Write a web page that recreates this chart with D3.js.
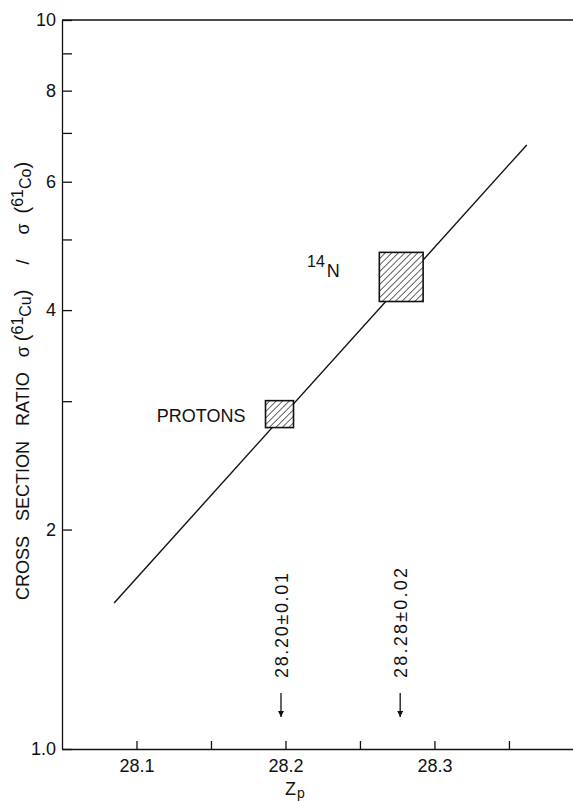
<!DOCTYPE html>
<html>
<head>
<meta charset="utf-8">
<script src="https://cdn.jsdelivr.net/npm/d3@7"></script>
<style>
  body { margin: 0; background: #fff; }
  svg { display: block; font-family: "Liberation Sans", Arial, sans-serif; }
  .axis text { font-size: 18px; fill: #111; font-family: "Liberation Sans", Arial, sans-serif; }
  .axis path, .axis line { stroke: #111; stroke-width: 1.3; }
</style>
</head>
<body>
<div id="chart"></div>
<script>
// data
var yTicks = [1, 2, 3, 4, 5, 6, 7, 8, 9, 10];
var yTickLabels = {1: "1.0", 2: "2", 4: "4", 6: "6", 8: "8", 10: "10"};
var xTicks = [28.1, 28.15, 28.2, 28.25, 28.3, 28.35];
var xTickLabels = {28.1: "28.1", 28.2: "28.2", 28.3: "28.3"};

// fitted line (Z_p, ratio)
var lineZ = [28.085, 28.362];
var lineRatio = [1.586, 6.74];

// measured boxes
var boxNames = ["PROTONS", "14N"];
var boxZ = [[28.1866, 28.2054], [28.263, 28.2924]];
var boxRatio = [[2.76, 3.005], [4.11, 4.80]];

// arrows with Z_p values
var arrowZ = [28.197, 28.277];
var arrowLabels = ["28.20\u00b10.01", "28.28\u00b10.02"];

var svgWidth = 573;
var svgHeight = 801;

var svg = d3.select("#chart")
    .append("svg")
    .attr("width", svgWidth)
    .attr("height", svgHeight);

var x = d3.scaleLinear()
    .domain([28.05, 28.393])
    .range([62, 573]);

var y = d3.scaleLog()
    .domain([1, 10])
    .range([749, 20]);

// hatch pattern
var defs = svg.append("defs");
defs.append("pattern")
    .attr("id", "hatch")
    .attr("patternUnits", "userSpaceOnUse")
    .attr("width", 4.6)
    .attr("height", 4.6)
    .attr("patternTransform", "rotate(45)")
    .append("line")
    .attr("x1", 0).attr("y1", 0)
    .attr("x2", 0).attr("y2", 4.6)
    .attr("stroke", "#111")
    .attr("stroke-width", 1.3);

defs.append("marker")
    .attr("id", "arrow")
    .attr("viewBox", "0 0 10 10")
    .attr("refX", 10).attr("refY", 5)
    .attr("markerWidth", 7).attr("markerHeight", 6)
    .attr("markerUnits", "userSpaceOnUse")
    .attr("orient", "auto")
    .append("path")
    .attr("d", "M0,0 L10,5 L0,10 Z")
    .attr("fill", "#111");

// axes
svg.append("g")
    .attr("class", "axis")
    .attr("transform", "translate(62,0)")
    .call(d3.axisLeft(y)
        .tickValues(yTicks)
        .tickSize(-10)
        .tickSizeOuter(0)
        .tickPadding(6)
        .tickFormat(d => yTickLabels[d] || ""));

svg.append("g")
    .attr("class", "axis")
    .attr("transform", "translate(0,749)")
    .call(d3.axisBottom(x)
        .tickValues(xTicks)
        .tickSize(-8)
        .tickSizeOuter(0)
        .tickPadding(10)
        .tickFormat(d => xTickLabels[d] || ""));

// top frame line
svg.append("line")
    .attr("x1", x.range()[0]).attr("x2", x.range()[1])
    .attr("y1", y(10)).attr("y2", y(10))
    .attr("stroke", "#111")
    .attr("stroke-width", 1.3);

// fitted line
svg.append("line")
    .attr("x1", x(lineZ[0])).attr("y1", y(lineRatio[0]))
    .attr("x2", x(lineZ[1])).attr("y2", y(lineRatio[1]))
    .attr("stroke", "#111")
    .attr("stroke-width", 1.4);

// boxes
svg.selectAll(".box")
    .data(boxNames)
    .enter()
    .append("rect")
    .attr("class", "box")
    .attr("x", (d, i) => x(boxZ[i][0]))
    .attr("y", (d, i) => y(boxRatio[i][1]))
    .attr("width", (d, i) => x(boxZ[i][1]) - x(boxZ[i][0]))
    .attr("height", (d, i) => y(boxRatio[i][0]) - y(boxRatio[i][1]))
    .attr("fill", "#fff")
    .attr("stroke", "none");

svg.selectAll(".boxh")
    .data(boxNames)
    .enter()
    .append("rect")
    .attr("class", "boxh")
    .attr("x", (d, i) => x(boxZ[i][0]))
    .attr("y", (d, i) => y(boxRatio[i][1]))
    .attr("width", (d, i) => x(boxZ[i][1]) - x(boxZ[i][0]))
    .attr("height", (d, i) => y(boxRatio[i][0]) - y(boxRatio[i][1]))
    .attr("fill", "url(#hatch)")
    .attr("stroke", "#111")
    .attr("stroke-width", 1.6);

// box labels
svg.append("text")
    .attr("x", x(boxZ[0][0]) - 20)
    .attr("y", y(boxRatio[0][0]) - 6)
    .attr("text-anchor", "end")
    .attr("font-size", 18)
    .attr("fill", "#111")
    .text("PROTONS");

var nLab = svg.append("text")
    .attr("x", 307)
    .attr("y", 277)
    .attr("fill", "#111");
nLab.append("tspan").attr("font-size", 16).attr("dy", -10).text("14");
nLab.append("tspan").attr("font-size", 18).attr("dy", 10).attr("dx", 2).text("N");

// arrows and their labels
arrowZ.forEach(function (z, i) {
    svg.append("line")
        .attr("x1", x(z)).attr("x2", x(z))
        .attr("y1", 693).attr("y2", 717)
        .attr("stroke", "#111")
        .attr("stroke-width", 1.3)
        .attr("marker-end", "url(#arrow)");

    svg.append("text")
        .attr("transform", `translate(${x(z) + 6.5}, 678) rotate(-90)`)
        .attr("font-size", 18)
        .attr("textLength", i === 0 ? 105 : 110)
        .attr("lengthAdjust", "spacing")
        .attr("fill", "#111")
        .text(arrowLabels[i]);
});

// x axis label
var xLab = svg.append("text")
    .attr("x", 285)
    .attr("y", 795)
    .attr("font-size", 18)
    .attr("fill", "#111");
xLab.append("tspan").text("Z");
xLab.append("tspan").attr("font-size", 14).attr("dy", 3).attr("dx", 1).text("p");

// y axis label
var yLab = svg.append("text")
    .attr("transform", "translate(29, 600) rotate(-90)")
    .attr("text-anchor", "start")
    .attr("font-size", 18)
    .attr("fill", "#111")
    .style("white-space", "pre");
yLab.append("tspan").text("CROSS   SECTION   RATIO   \u03c3 ");
yLab.append("tspan").attr("font-size", 20).text("(");
yLab.append("tspan").attr("font-size", 16).attr("dy", -6).text("61");
yLab.append("tspan").attr("font-size", 16).attr("dy", 8).text("Cu");
yLab.append("tspan").attr("font-size", 20).attr("dy", -2).text(")");
yLab.append("tspan").text("     /     \u03c3  ");
yLab.append("tspan").attr("font-size", 20).text("(");
yLab.append("tspan").attr("font-size", 16).attr("dy", -6).text("61");
yLab.append("tspan").attr("font-size", 16).attr("dy", 8).text("Co");
yLab.append("tspan").attr("font-size", 20).attr("dy", -2).text(")");
</script>
</body>
</html>
